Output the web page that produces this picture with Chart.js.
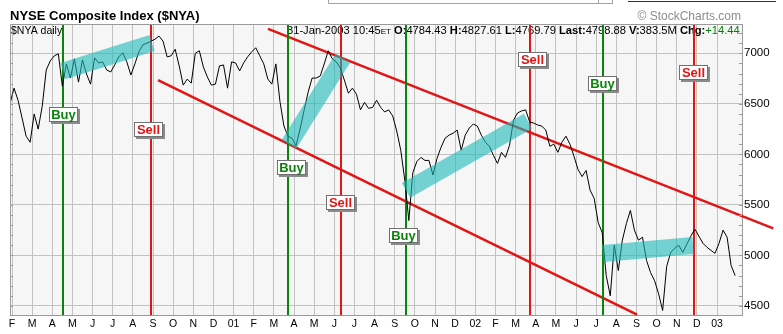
<!DOCTYPE html>
<html>
<head>
<meta charset="utf-8">
<script src="https://cdn.jsdelivr.net/npm/chart.js@4.4.0/dist/chart.umd.min.js"></script>
<style>
  html, body { margin: 0; padding: 0; background: #fff; }
  canvas { display: block; }
</style>
</head>
<body>
<canvas id="nya" width="783" height="334"></canvas>
<script>
// $NYA daily close, every 0.2 month (about 4 trading days)
// month 1 = Feb 2000, month 36 = Jan 2003
const startMonth = 0.9;
const stepMonth = 0.2;
const closeValues = [
  6500, 6655, 6535, 6360, 6180, 6120, 6400, 6250, 6475, 6835,
  6925, 6975, 6995, 6675, 6895, 6755, 6945, 6715, 6935, 6795,
  6695, 6955, 6905, 6915, 6835, 6815, 6885, 6965, 7005, 6915,
  6785, 6895, 7015, 7085, 7100, 7120, 7140, 7170, 7120, 6965,
  6975, 7040, 6875, 6685, 6745, 6705, 7000, 7025, 6865, 6765,
  6685, 6695, 6875, 6885, 6655, 6915, 6905, 6825, 6905, 6965,
  7015, 7055, 6975, 6895, 6745, 6695, 6895, 6525, 6280, 6180,
  6160, 6085, 6250, 6435, 6615, 6755, 6755, 6775, 6895, 7025,
  6945, 6915, 6855, 6735, 6605, 6655, 6595, 6440, 6515, 6455,
  6465, 6535, 6465, 6420, 6440, 6380, 6230, 6040, 5745, 5345,
  5820, 5930, 5970, 5940, 5940, 5795, 5960, 6070, 6160, 6190,
  6210, 6240, 6040, 6190, 6260, 6300, 6280, 6190, 6120, 6080,
  5990, 5910, 6020, 5970, 6090, 6340, 6410, 6430, 6440, 6320,
  6310, 6290, 6280, 6240, 6080, 6100, 6020, 6120, 6180, 6100,
  5980, 5850, 5780, 5840, 5645, 5565, 5325, 5225, 4800, 4600,
  5100, 4850, 5150, 5315, 5445, 5250, 5150, 5180, 4950, 4830,
  4750, 4620, 4455, 4890, 5030, 5070, 5100, 5030, 5110, 5190,
  5260, 5190, 5120, 5080, 5050, 5020, 5120, 5250, 5180, 4900,
  4800
];

const monthLabels = ['F','M','A','M','J','J','A','S','O','N','D','01',
                     'F','M','A','M','J','J','A','S','O','N','D','02',
                     'F','M','A','M','J','J','A','S','O','N','D','03'];
const priceTicks = [4500, 5000, 5500, 6000, 6500, 7000];

// buy / sell signals
const signalTypes  = ['Buy', 'Sell', 'Buy', 'Sell', 'Buy', 'Sell', 'Buy', 'Sell'];
const signalMonths = [3.53, 7.92, 14.69, 17.34, 20.56, 26.72, 30.33, 34.88];
const labelMonths  = [3.58, 7.80, 14.90, 17.31, 20.44, 26.84, 30.32, 34.84];
const labelValues  = [6393, 6244, 5867, 5520, 5193, 6938, 6705, 6814];

// channel lines and trend bands: [month0, value0, month1, value1]
const channelLines = [[13.71, 7241, 38.79, 5267], [8.25, 6735, 32.03, 4414]];
const trendBands = [[3.53, 6824, 7.95, 7102], [14.75, 6100, 17.43, 6953],
                    [20.56, 5644, 26.62, 6328], [30.34, 5019, 34.81, 5098]];

const quoteParts = [
  ['31-Jan-2003 10:45', ''], ['ET', 'small'], [' O:', 'bold'], ['4784.43 ', ''],
  ['H:', 'bold'], ['4827.61 ', ''], ['L:', 'bold'], ['4769.79 ', ''],
  ['Last:', 'bold'], ['4798.88 ', ''], ['V:', 'bold'], ['383.5M ', ''],
  ['Chg:', 'bold'], ['+14.44', 'green']
];

const points = closeValues.map((v, i) => ({ x: startMonth + i * stepMonth, y: v }));

const FONT = '"Liberation Sans", Arial, sans-serif';
const GREEN = '#0b840b';
const RED = '#e31414';

function partFont(s, size) {
  return (s === 'bold' ? 'bold ' : '') + (s === 'small' ? size * 0.72 : size) + 'px ' + FONT;
}

const decor = {
  id: 'decor',
  beforeDraw(chart) {
    const { ctx, chartArea: a } = chart;
    ctx.save();
    ctx.fillStyle = '#f6f6f6';
    ctx.fillRect(a.left, a.top, a.right - a.left, a.bottom - a.top);
    ctx.restore();
  },
  beforeDatasetsDraw(chart) {
    const { ctx, chartArea: a, scales: { x, y } } = chart;
    ctx.save();
    // header inside plot
    ctx.textBaseline = 'alphabetic';
    ctx.fillStyle = '#000';
    ctx.font = '10.5px ' + FONT;
    ctx.fillText('$NYA daily', 11, 34);
    // fit the quote line between x=287 and x=740
    let total = 0;
    quoteParts.forEach(([t, s]) => { ctx.font = partFont(s, 10); total += ctx.measureText(t).width; });
    const size = 10 * 453 / total;
    let px = 287;
    quoteParts.forEach(([t, s]) => {
      ctx.font = partFont(s, size);
      ctx.fillStyle = s === 'green' ? '#0a7a0a' : '#000';
      ctx.fillText(t, px, 34);
      px += ctx.measureText(t).width;
    });

    // channel lines
    ctx.strokeStyle = RED;
    ctx.lineWidth = 2.5;
    channelLines.forEach(([m0, v0, m1, v1]) => {
      ctx.beginPath();
      ctx.moveTo(x.getPixelForValue(m0), y.getPixelForValue(v0));
      ctx.lineTo(x.getPixelForValue(m1), y.getPixelForValue(v1));
      ctx.stroke();
    });

    // signal lines
    ctx.lineWidth = 2;
    signalMonths.forEach((m, i) => {
      const sx = Math.round(x.getPixelForValue(m));
      ctx.strokeStyle = signalTypes[i] === 'Buy' ? GREEN : RED;
      ctx.beginPath();
      ctx.moveTo(sx, a.top);
      ctx.lineTo(sx, a.bottom);
      ctx.stroke();
    });
    ctx.restore();
  },
  afterDatasetsDraw(chart) {
    const { ctx, chartArea: a, scales: { x, y } } = chart;
    ctx.save();
    // trend bands
    ctx.strokeStyle = 'rgba(30,185,185,0.6)';
    ctx.lineWidth = 17;
    ctx.lineCap = 'butt';
    trendBands.forEach(([m0, v0, m1, v1]) => {
      ctx.beginPath();
      ctx.moveTo(x.getPixelForValue(m0), y.getPixelForValue(v0));
      ctx.lineTo(x.getPixelForValue(m1), y.getPixelForValue(v1));
      ctx.stroke();
    });

    // left / top border and minor ticks
    ctx.strokeStyle = '#9a9a9a';
    ctx.lineWidth = 1;
    ctx.beginPath();
    ctx.moveTo(a.left + 0.5, a.bottom);
    ctx.lineTo(a.left + 0.5, a.top + 0.5);
    ctx.lineTo(a.right, a.top + 0.5);
    for (let v = 4500; v <= 7200; v += 100) {
      const ty = Math.round(y.getPixelForValue(v)) + 0.5;
      ctx.moveTo(a.left, ty); ctx.lineTo(a.left + 3, ty);
      ctx.moveTo(a.right - 3, ty); ctx.lineTo(a.right, ty);
    }
    ctx.stroke();

    // Buy / Sell boxes
    ctx.textAlign = 'center';
    ctx.textBaseline = 'middle';
    ctx.font = 'bold 13px ' + FONT;
    labelMonths.forEach((m, i) => {
      const cx = x.getPixelForValue(m);
      const cy = y.getPixelForValue(labelValues[i]);
      const w = 29, h = 15;
      const l = Math.round(cx - w / 2), t = Math.round(cy - h / 2);
      ctx.fillStyle = '#8a8a8a';
      ctx.fillRect(l + 2, t + 2, w, h);
      ctx.fillStyle = '#fff';
      ctx.fillRect(l, t, w, h);
      ctx.strokeStyle = '#707070';
      ctx.strokeRect(l + 0.5, t + 0.5, w - 1, h - 1);
      ctx.fillStyle = signalTypes[i] === 'Buy' ? GREEN : RED;
      ctx.fillText(signalTypes[i], l + w / 2, t + h / 2 + 1);
    });
    ctx.restore();
  },
  afterDraw(chart) {
    const { ctx } = chart;
    ctx.save();
    ctx.fillStyle = '#000';
    ctx.font = 'bold 13px ' + FONT;
    ctx.textBaseline = 'alphabetic';
    ctx.fillText('NYSE Composite Index ($NYA)', 10, 20);
    ctx.fillStyle = '#8c8c8c';
    ctx.font = '12px ' + FONT;
    ctx.textAlign = 'right';
    ctx.fillText('\u00A9 StockCharts.com', 741, 20);
    // bits of the page header cut off at the top edge
    ctx.strokeStyle = '#a0a0a0';
    ctx.lineWidth = 1;
    ctx.beginPath();
    ctx.moveTo(328.5, 0); ctx.lineTo(328.5, 3.5); ctx.lineTo(598, 3.5);
    ctx.stroke();
    ctx.strokeRect(598.5, -4, 14, 7.5);
    ctx.strokeStyle = '#223366';
    ctx.beginPath();
    ctx.moveTo(628, 1.5); ctx.lineTo(776, 1.5);
    ctx.stroke();
    ctx.restore();
  }
};

new Chart(document.getElementById('nya'), {
  type: 'line',
  data: {
    datasets: [{
      data: points,
      borderColor: '#000',
      borderWidth: 1,
      pointRadius: 0,
      tension: 0
    }]
  },
  options: {
    responsive: false,
    animation: false,
    devicePixelRatio: 1,
    layout: { padding: { left: 10, top: 24, right: 0, bottom: 0 } },
    plugins: { legend: { display: false }, tooltip: { enabled: false } },
    scales: {
      x: {
        type: 'linear',
        min: 0.9007,
        max: 37.24,
        afterBuildTicks: s => { s.ticks = monthLabels.map((l, i) => ({ value: i + 1 })); },
        afterFit: s => { s.height = 19; },
        ticks: {
          autoSkip: false,
          maxRotation: 0,
          padding: 3,
          color: '#000',
          font: { family: FONT, size: 10.5 },
          callback: (v, i) => monthLabels[i]
        },
        grid: { color: '#c2c2c2', drawTicks: false },
        border: { color: '#9a9a9a' }
      },
      y: {
        position: 'right',
        min: 4410,
        max: 7290,
        afterBuildTicks: s => { s.ticks = priceTicks.map(v => ({ value: v })); },
        afterFit: s => { s.width = 41; },
        ticks: {
          padding: 2,
          color: '#000',
          font: { family: FONT, size: 11.5 },
          callback: v => String(v)
        },
        grid: { color: '#c2c2c2', drawTicks: false },
        border: { color: '#9a9a9a' }
      }
    }
  },
  plugins: [decor]
});
</script>
</body>
</html>
